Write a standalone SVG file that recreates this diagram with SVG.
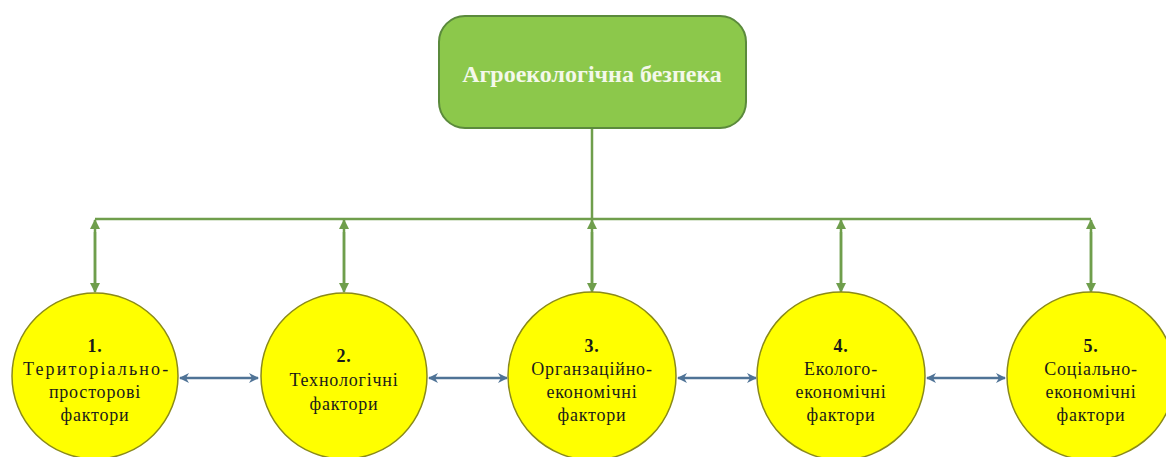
<svg xmlns="http://www.w3.org/2000/svg" width="1166" height="457" viewBox="0 0 1166 457">
<style>
.g{stroke:#6f9e4c;stroke-width:2.5;fill:none}
.b{stroke:#4f7396;stroke-width:2.5;fill:none}
.c{fill:#ffff00;stroke:#8a8a1a;stroke-width:1.5}
.t{font-family:"Liberation Serif","Times New Roman",serif;font-size:18px;letter-spacing:0.8px;fill:#1a1a1a;text-anchor:middle}
.n{font-weight:bold}
.h{font-family:"Liberation Serif","Times New Roman",serif;font-size:24px;font-weight:bold;fill:#f4f8ea;text-anchor:middle}
</style>
<defs>
<marker id="ag" viewBox="0 0 10 10" refX="9" refY="5" markerWidth="4" markerHeight="4.5" orient="auto" markerUnits="strokeWidth">
<path d="M0,0 L10,5 L0,10 Z" fill="#6f9e4c"/>
</marker>
<marker id="ab" viewBox="0 0 10 10" refX="9" refY="5" markerWidth="4" markerHeight="4" orient="auto-start-reverse" markerUnits="strokeWidth">
<path d="M0,0 L10,5 L0,10 L3,5 Z" fill="#4f7396"/>
</marker>
</defs>
<g id="connectors">
<path class="g" d="M592,128 V219 M95,219 H1091"/>
<path class="g" d="M95,290 V220" marker-end="url(#ag)"/>
<path class="g" d="M95,232 V292" marker-end="url(#ag)"/>
<path class="g" d="M344,290 V220" marker-end="url(#ag)"/>
<path class="g" d="M344,232 V292" marker-end="url(#ag)"/>
<path class="g" d="M592,290 V220" marker-end="url(#ag)"/>
<path class="g" d="M592,232 V292" marker-end="url(#ag)"/>
<path class="g" d="M841,290 V220" marker-end="url(#ag)"/>
<path class="g" d="M841,232 V292" marker-end="url(#ag)"/>
<path class="g" d="M1091,290 V220" marker-end="url(#ag)"/>
<path class="g" d="M1091,232 V292" marker-end="url(#ag)"/>
<path class="b" d="M180,378 H258" marker-start="url(#ab)" marker-end="url(#ab)"/>
<path class="b" d="M429,378 H507" marker-start="url(#ab)" marker-end="url(#ab)"/>
<path class="b" d="M678,378 H756" marker-start="url(#ab)" marker-end="url(#ab)"/>
<path class="b" d="M927,378 H1005" marker-start="url(#ab)" marker-end="url(#ab)"/>
</g>
<g id="top">
<rect x="439" y="16" width="307" height="112" rx="26" fill="#8cc84b" stroke="#5b8a3c" stroke-width="2"/>
<text class="h" x="592" y="82">Агроекологічна безпека</text>
</g>
<g id="n1">
<circle class="c" cx="95" cy="376" r="83"/>
<text class="t n" x="95" y="352">1.</text>
<text class="t" x="96" y="375" textLength="146">Територіально-</text>
<text class="t" x="95" y="398">просторові</text>
<text class="t" x="95" y="421">фактори</text>
</g>
<g id="n2">
<circle class="c" cx="344" cy="376" r="83"/>
<text class="t n" x="344" y="362">2.</text>
<text class="t" x="344" y="386">Технологічні</text>
<text class="t" x="344" y="410">фактори</text>
</g>
<g id="n3">
<circle class="c" cx="592" cy="376" r="84"/>
<text class="t n" x="592" y="352">3.</text>
<text class="t" x="592" y="375">Органзаційно-</text>
<text class="t" x="592" y="398">економічні</text>
<text class="t" x="592" y="421">фактори</text>
</g>
<g id="n4">
<circle class="c" cx="841" cy="376" r="84"/>
<text class="t n" x="841" y="352">4.</text>
<text class="t" x="841" y="375">Еколого-</text>
<text class="t" x="841" y="398">економічні</text>
<text class="t" x="841" y="421">фактори</text>
</g>
<g id="n5">
<circle class="c" cx="1091" cy="376" r="84"/>
<text class="t n" x="1091" y="352">5.</text>
<text class="t" x="1091" y="375">Соціально-</text>
<text class="t" x="1091" y="398">економічні</text>
<text class="t" x="1091" y="421">фактори</text>
</g>
</svg>
